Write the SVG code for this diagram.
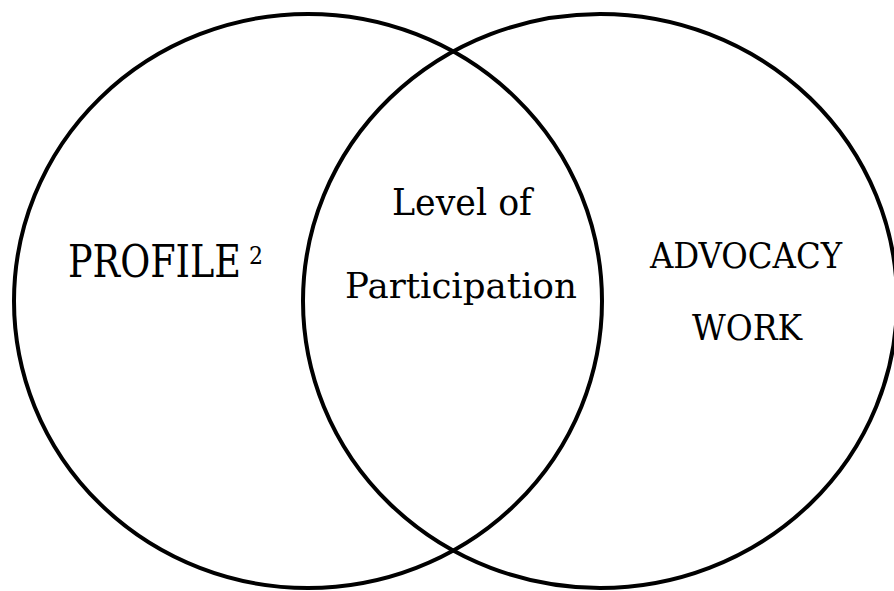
<svg xmlns="http://www.w3.org/2000/svg" width="894" height="591" viewBox="0 0 894 591">
  <style>
    .set { fill: none; stroke: #000; stroke-width: 4; }
    .lbl { font-family: "DejaVu Serif", "Liberation Serif", serif; fill: #000; }
    .caps { font-family: "DejaVu Serif Condensed", "DejaVu Serif", "Liberation Serif", serif; }
  </style>
  <rect width="894" height="591" fill="#fff"/>
  <g id="profile">
    <ellipse class="set" cx="308" cy="301" rx="294" ry="287"/>
    <text class="lbl caps" x="68" y="277" font-size="44" textLength="173" lengthAdjust="spacingAndGlyphs">PROFILE</text>
    <text class="lbl" x="249" y="264" font-size="24" textLength="14" lengthAdjust="spacingAndGlyphs">2</text>
  </g>
  <g id="advocacy-work">
    <ellipse class="set" cx="600" cy="301" rx="297" ry="287"/>
    <text class="lbl caps" x="650" y="268" font-size="36" textLength="192" lengthAdjust="spacingAndGlyphs">ADVOCACY</text>
    <text class="lbl caps" x="692" y="340" font-size="36" textLength="110" lengthAdjust="spacingAndGlyphs">WORK</text>
  </g>
  <g id="level-of-participation">
    <text class="lbl" x="392" y="215" font-size="37" textLength="140" lengthAdjust="spacingAndGlyphs">Level of</text>
    <text class="lbl" x="345" y="298" font-size="36" textLength="232" lengthAdjust="spacingAndGlyphs">Participation</text>
  </g>
</svg>
